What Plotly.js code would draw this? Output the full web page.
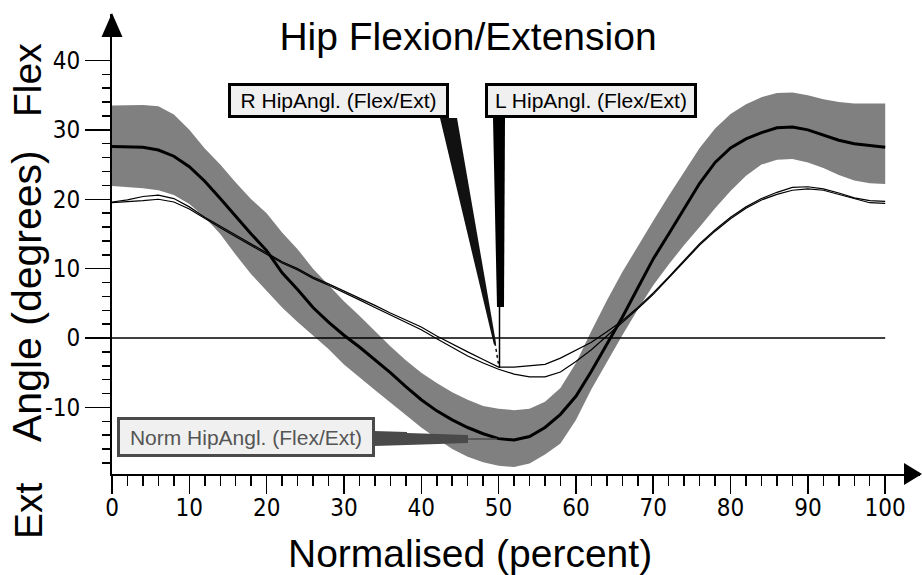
<!DOCTYPE html>
<html>
<head>
<meta charset="utf-8">
<script src="https://cdn.plot.ly/plotly-3.0.1.min.js"></script>
<style>html,body{margin:0;padding:0;background:#fff;}#chart{width:922px;height:575px;}</style>
</head>
<body>
<div id="chart"></div>
<script>
// ---- data ----
const pct = [0,2,4,6,8,10,12,14,16,18,20,22,24,26,28,30,32,34,36,38,40,42,44,46,48,50,52,54,56,58,60,62,64,66,68,70,72,74,76,78,80,82,84,86,88,90,92,94,96,98,100];

const normMean = [27.6,27.6,27.5,27.1,26.2,24.7,22.6,20.1,17.5,15.0,12.6,9.4,7.0,4.4,2.3,0.4,-1.3,-3.1,-5.0,-7.0,-8.9,-10.5,-11.8,-12.9,-13.8,-14.5,-14.7,-14.2,-12.9,-11.0,-8.4,-4.8,-1.0,3.0,7.2,11.4,15.0,18.6,22.3,25.3,27.4,28.7,29.6,30.3,30.4,30.0,29.2,28.5,28.0,27.7,27.5];

const normUpper = [33.5,33.6,33.6,33.4,32.2,30.0,27.3,25.0,22.4,20.0,18.0,15.2,12.8,10.0,7.6,5.3,3.2,1.0,-1.2,-3.2,-5.0,-6.5,-7.8,-8.9,-9.8,-10.2,-10.4,-10.2,-9.2,-7.2,-3.6,1.0,5.4,9.5,13.3,16.9,20.5,24.0,27.4,30.2,32.3,33.7,34.7,35.3,35.4,35.0,34.4,34.0,33.8,33.8,33.8];

const normLower = [21.9,21.8,21.6,21.3,20.6,19.3,17.4,15.0,12.0,9.2,6.8,4.4,2.3,0.3,-1.6,-3.8,-5.7,-7.5,-9.3,-11.1,-12.9,-14.5,-16.0,-17.1,-17.9,-18.4,-18.6,-18.1,-16.8,-15.2,-11.8,-7.4,-3.4,0.4,4.1,7.6,10.6,13.4,16.0,18.7,21.2,23.4,25.0,25.7,25.8,25.3,24.5,23.5,22.7,22.3,22.2];

const rHip = [19.6,19.9,20.4,20.6,20.1,18.9,17.4,16.1,14.8,13.5,12.2,11.0,10.0,8.8,7.8,6.8,5.8,4.7,3.6,2.6,1.6,0.3,-0.9,-2.0,-3.1,-4.2,-4.2,-4.0,-3.8,-2.9,-1.7,-0.6,0.9,2.5,4.4,6.5,8.8,11.2,13.6,15.6,17.4,18.9,20.1,21.0,21.7,21.8,21.5,20.9,20.2,19.8,19.7];

const lHip = [19.5,19.6,19.8,20.0,19.6,18.6,17.2,15.9,14.6,13.3,12.0,10.8,9.8,8.6,7.6,6.6,5.5,4.4,3.3,2.3,1.2,-0.1,-1.4,-2.6,-3.6,-4.5,-5.2,-5.6,-5.6,-4.9,-3.4,-1.7,0.3,2.2,4.2,6.3,8.6,11.0,13.4,15.4,17.2,18.7,19.9,20.7,21.3,21.5,21.3,20.7,20.0,19.5,19.4];

const xMajorTicks = [0,10,20,30,40,50,60,70,80,90,100];
const yMajorTicks = [-10,0,10,20,30,40];

const chartTitle = "Hip Flexion/Extension";
const xTitle = "Normalised (percent)";
const yTitle = "Angle (degrees)";
const yTopLabel = "Flex";
const yBottomLabel = "Ext";
const rLabel = "R HipAngl. (Flex/Ext)";
const lLabel = "L HipAngl. (Flex/Ext)";
const normLabel = "Norm HipAngl. (Flex/Ext)";

// ---- layout geometry ----
const W = 922, H = 575;
const PL = 112, PR = 920, PT = 14, PB = 474;
const xRange = [0, 104.5];
const yRange = [-19.6, 46.7];
const px = v => (v - PL) / (PR - PL);   // pixel x -> paper
const py = v => (PB - v) / (PB - PT);   // pixel y -> paper

const xMinor = []; for (let v = 0; v <= 100; v += 2) if (v % 10) xMinor.push(v);
const yMinor = []; for (let v = -18; v <= 38; v += 2) if (v % 10) yMinor.push(v);

const traces = [
  {x: pct, y: normUpper, mode: 'lines', line: {width: 0, color: '#808080'}, hoverinfo: 'skip', showlegend: false},
  {x: pct, y: normLower, mode: 'lines', line: {width: 0, color: '#808080'}, fill: 'tonexty', fillcolor: '#808080', hoverinfo: 'skip', showlegend: false},
  {x: pct, y: normMean, mode: 'lines', line: {width: 3, color: '#000'}, name: 'Norm', showlegend: false},
  {x: pct, y: rHip, mode: 'lines', line: {width: 1.2, color: '#000'}, name: 'R', showlegend: false},
  {x: pct, y: lHip, mode: 'lines', line: {width: 1.2, color: '#000'}, name: 'L', showlegend: false}
];

function pathPx(points) {
  return 'M ' + points.map(p => px(p[0]) + ',' + py(p[1])).join(' L ') + ' Z';
}

const shapes = [
  {type: 'line', xref: 'x', yref: 'y', x0: 0, x1: 100, y0: 0, y1: 0, line: {color: '#000', width: 1.5}, layer: 'above'},
  {type: 'path', xref: 'paper', yref: 'paper', path: pathPx([[PL, 13], [PL - 10.5, 37], [PL + 10.5, 37]]), fillcolor: '#000', line: {width: 0}},
  {type: 'path', xref: 'paper', yref: 'paper', path: pathPx([[922, PB], [904, PB - 11], [904, PB + 11]]), fillcolor: '#000', line: {width: 0}},
  {type: 'path', xref: 'paper', yref: 'paper', path: pathPx([[440, 118], [457, 118], [496, 343], [494, 345]]), fillcolor: '#111', line: {width: 0}, layer: 'above'},
  {type: 'line', xref: 'paper', yref: 'paper', x0: px(495), y0: py(343), x1: px(499), y1: py(367), line: {color: '#111', width: 1.5, dash: 'dot'}, layer: 'above'},
  {type: 'path', xref: 'paper', yref: 'paper', path: pathPx([[493, 118], [505, 118], [504, 307], [497, 307]]), fillcolor: '#000', line: {width: 0}, layer: 'above'},
  {type: 'line', xref: 'paper', yref: 'paper', x0: px(499.5), y0: py(307), x1: px(499.5), y1: py(368), line: {color: '#000', width: 1.5}, layer: 'above'},
  {type: 'path', xref: 'paper', yref: 'paper', path: pathPx([[374, 431], [407, 432], [407, 433], [438, 434], [468, 435], [468, 443], [438, 444], [407, 445], [374, 446]]), fillcolor: '#4a4a4a', line: {width: 0}, layer: 'above'},
  {type: 'line', xref: 'paper', yref: 'paper', x0: px(466), y0: py(439), x1: px(497), y1: py(439), line: {color: '#4a4a4a', width: 1.5}, layer: 'above'}
];

const bigFont = {family: 'Liberation Sans, Arial, sans-serif', size: 39, color: '#000'};
const boxFont = {family: 'Liberation Sans, Arial, sans-serif', size: 21, color: '#000'};

const annotations = [
  {text: yTopLabel, xref: 'paper', yref: 'paper', x: px(28), y: py(80), textangle: -90, showarrow: false, xanchor: 'center', yanchor: 'middle', font: bigFont},
  {text: yTitle, xref: 'paper', yref: 'paper', x: px(27), y: py(296), textangle: -90, showarrow: false, xanchor: 'center', yanchor: 'middle', font: Object.assign({}, bigFont, {size: 41})},
  {text: yBottomLabel, xref: 'paper', yref: 'paper', x: px(28), y: py(511), textangle: -90, showarrow: false, xanchor: 'center', yanchor: 'middle', font: bigFont},
  {text: xTitle, xref: 'paper', yref: 'paper', x: px(470), y: py(553), showarrow: false, xanchor: 'center', yanchor: 'middle', font: bigFont},
  {text: rLabel, xref: 'paper', yref: 'paper', x: px(338.5), y: py(100.5), showarrow: false, xanchor: 'center', yanchor: 'middle',
   font: boxFont, bgcolor: '#f0f0f0', bordercolor: '#000', borderwidth: 3, borderpad: 1, width: 213, height: 27},
  {text: lLabel, xref: 'paper', yref: 'paper', x: px(591), y: py(100.5), showarrow: false, xanchor: 'center', yanchor: 'middle',
   font: boxFont, bgcolor: '#f0f0f0', bordercolor: '#000', borderwidth: 3, borderpad: 1, width: 204, height: 27},
  {text: normLabel, xref: 'paper', yref: 'paper', x: px(246), y: py(437), showarrow: false, xanchor: 'center', yanchor: 'middle',
   font: Object.assign({}, boxFont, {color: '#555'}), bgcolor: '#f0f0f0', bordercolor: '#4a4a4a', borderwidth: 3, borderpad: 1, width: 250, height: 32}
];

const tickFont = {family: 'DejaVu Sans Condensed, Liberation Sans Narrow, sans-serif', size: 24, color: '#000'};

const layout = {
  width: W, height: H,
  margin: {l: PL, r: W - PR, t: PT, b: H - PB, pad: 0},
  paper_bgcolor: '#fff', plot_bgcolor: '#fff',
  showlegend: false,
  title: {text: chartTitle, xref: 'container', yref: 'container', x: 468 / W, y: 1 - 36 / H, xanchor: 'center', yanchor: 'middle', font: bigFont},
  xaxis: {
    range: xRange, showgrid: false, zeroline: false, showline: true, linecolor: '#000', linewidth: 2,
    tickmode: 'array', tickvals: xMajorTicks, ticktext: xMajorTicks.map(String),
    ticks: 'outside', ticklen: 18, tickwidth: 1.5, tickcolor: '#000', tickfont: tickFont, ticklabelstandoff: -7,
    minor: {tickmode: 'array', tickvals: xMinor, ticks: 'outside', ticklen: 10, tickwidth: 1.5, tickcolor: '#000', showgrid: false},
    fixedrange: true
  },
  yaxis: {
    range: yRange, showgrid: false, zeroline: false, showline: true, linecolor: '#000', linewidth: 2,
    tickmode: 'array', tickvals: yMajorTicks, ticktext: yMajorTicks.map(v => v < 0 ? '-' + Math.abs(v) : String(v)),
    ticks: 'outside', ticklen: 25, tickwidth: 1.5, tickcolor: '#000', tickfont: tickFont, ticklabelstandoff: 0,
    minor: {tickmode: 'array', tickvals: yMinor, ticks: 'outside', ticklen: 8, tickwidth: 1.5, tickcolor: '#000', showgrid: false},
    fixedrange: true
  },
  shapes: shapes,
  annotations: annotations
};

Plotly.newPlot('chart', traces, layout, {staticPlot: true, displayModeBar: false});
</script>
</body>
</html>
